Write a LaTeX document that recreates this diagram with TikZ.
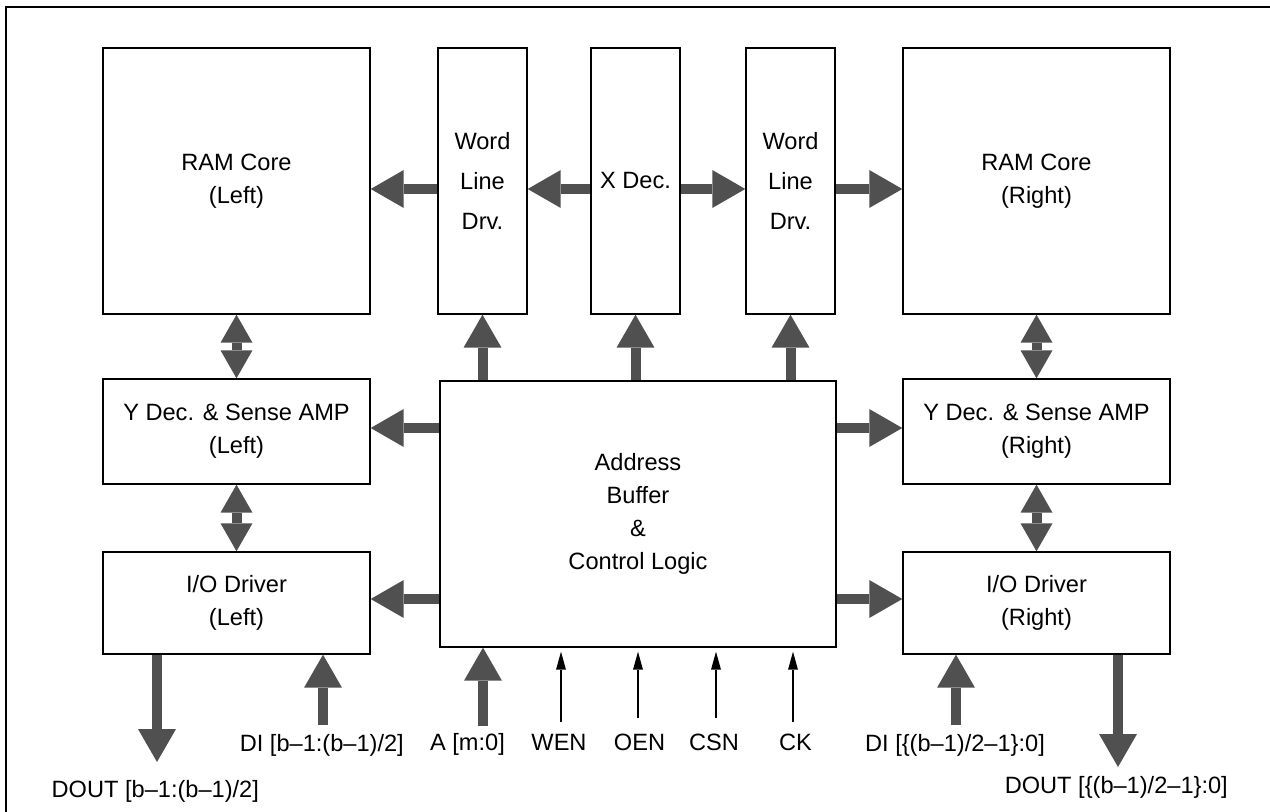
\documentclass[tikz,border=0pt]{standalone}
\usepackage{fontspec}
\setmainfont{Liberation Sans}
\usetikzlibrary{arrows.meta}
\definecolor{arrowgray}{HTML}{505050}
\tikzset{
  box/.style={draw=black, line width=0.7pt, fill=white, align=center, inner sep=0pt,
    font=\fontsize{11.8}{16.5}\selectfont},
  wide/.style={minimum width=133.5pt},
  narrow/.style={minimum width=44.5pt, minimum height=133pt},
  lbl/.style={anchor=base, inner sep=0pt, font=\fontsize{11.8}{14}\selectfont},
  bigarrow/.style={draw=arrowgray, line width=5pt, -{Triangle[width=19pt,length=16.5pt,line width=0pt]}},
  bidir/.style={draw=arrowgray, line width=5pt,
    {Triangle[width=16pt,length=14pt,line width=0pt]}-{Triangle[width=16pt,length=14pt,line width=0pt]}},
  thinarrow/.style={draw=black, line width=0.6pt, -{Triangle[width=5pt,length=9pt,line width=0pt]}, shorten >=2pt},
  frameline/.style={draw=black, line width=1pt}
}
\begin{document}
\begin{tikzpicture}[x=0.5pt, y=-0.5pt]
\useasboundingbox (0,0) rectangle (1270,812);
\draw[frameline] (6,812) -- (6,7) -- (1270,7);

% top row
\node[box, wide, minimum height=133pt] (ramL) at (236.5,181) {RAM Core\\(Left)};
\node[box, narrow, font=\fontsize{11.8}{20}\selectfont] (wl1) at (482.5,181) {Word\\Line\\Drv.};
\node[box, narrow] (xdec) at (635.5,181) {X Dec.};
\node[box, narrow, font=\fontsize{11.8}{20}\selectfont] (wl2) at (790.5,181) {Word\\Line\\Drv.};
\node[box, wide, minimum height=133pt] (ramR) at (1036.5,181) {RAM Core\\(Right)};

% middle / bottom rows
\node[box, wide, minimum height=52.5pt] (ydL) at (236.5,431.5) {Y Dec. \& Sense AMP\\(Left)};
\node[box, wide, minimum height=52.5pt] (ydR) at (1036.5,431.5) {Y Dec. \& Sense AMP\\(Right)};
\node[box, wide, minimum height=51pt] (ioL) at (236.5,603) {I/O Driver\\(Left)};
\node[box, wide, minimum height=51pt] (ioR) at (1036.5,603) {I/O Driver\\(Right)};
\node[box, minimum width=198pt, minimum height=133pt] (ctrl) at (638,514) {Address\\Buffer\\\&\\Control Logic};

% row coordinates
\coordinate (r1) at (0,189);
\coordinate (r2) at (0,428);
\coordinate (r3) at (0,599);

% top horizontal arrows
\draw[bigarrow] (wl1.west |- r1) -- (ramL.east |- r1);
\draw[bigarrow] (xdec.west |- r1) -- (wl1.east |- r1);
\draw[bigarrow] (xdec.east |- r1) -- (wl2.west |- r1);
\draw[bigarrow] (wl2.east |- r1) -- (ramR.west |- r1);

% control up arrows
\draw[bigarrow] (wl1.south |- ctrl.north) -- (wl1.south);
\draw[bigarrow] (xdec.south |- ctrl.north) -- (xdec.south);
\draw[bigarrow] (wl2.south |- ctrl.north) -- (wl2.south);

% control side arrows
\draw[bigarrow] (ctrl.west |- r2) -- (ydL.east |- r2);
\draw[bigarrow] (ctrl.west |- r3) -- (ioL.east |- r3);
\draw[bigarrow] (ctrl.east |- r2) -- (ydR.west |- r2);
\draw[bigarrow] (ctrl.east |- r3) -- (ioR.west |- r3);

% bidirectional
\draw[bidir] (ramL.south) -- (ydL.north);
\draw[bidir] (ydL.south) -- (ioL.north);
\draw[bidir] (ramR.south) -- (ydR.north);
\draw[bidir] (ydR.south) -- (ioR.north);

% bottom signal coordinates
\coordinate (doutL) at (157,762);
\coordinate (diL) at (323,725);
\coordinate (addr) at (483,726);
\coordinate (wen) at (561,722);
\coordinate (oen) at (638,718);
\coordinate (csn) at (716,718);
\coordinate (ck) at (793,722);
\coordinate (diR) at (956,725);
\coordinate (doutR) at (1118,767);

\draw[bigarrow] (ioL.south -| doutL) -- (doutL);
\draw[bigarrow] (diL) -- (ioL.south -| diL);
\draw[bigarrow] (addr) -- (ctrl.south -| addr);
\draw[thinarrow] (wen) -- (ctrl.south -| wen);
\draw[thinarrow] (oen) -- (ctrl.south -| oen);
\draw[thinarrow] (csn) -- (ctrl.south -| csn);
\draw[thinarrow] (ck) -- (ctrl.south -| ck);
\draw[bigarrow] (diR) -- (ioR.south -| diR);
\draw[bigarrow] (ioR.south -| doutR) -- (doutR);

% labels
\node[lbl] (tdoutL) at (155.3,797) {DOUT [b–1:(b–1)/2]};
\node[lbl] (tdiL) at (321.8,751) {DI [b–1:(b–1)/2]};
\node[lbl] (taddr) at (467.5,750) {A [m:0]};
\node[lbl] (twen) at (559,750) {WEN};
\node[lbl] (toen) at (639.5,750) {OEN};
\node[lbl] (tcsn) at (714,750) {CSN};
\node[lbl] (tck) at (795.5,750) {CK};
\node[lbl] (tdiR) at (955,751) {DI [\{(b–1)/2–1\}:0]};
\node[lbl] (tdoutR) at (1116.3,793) {DOUT [\{(b–1)/2–1\}:0]};
\end{tikzpicture}
\end{document}
